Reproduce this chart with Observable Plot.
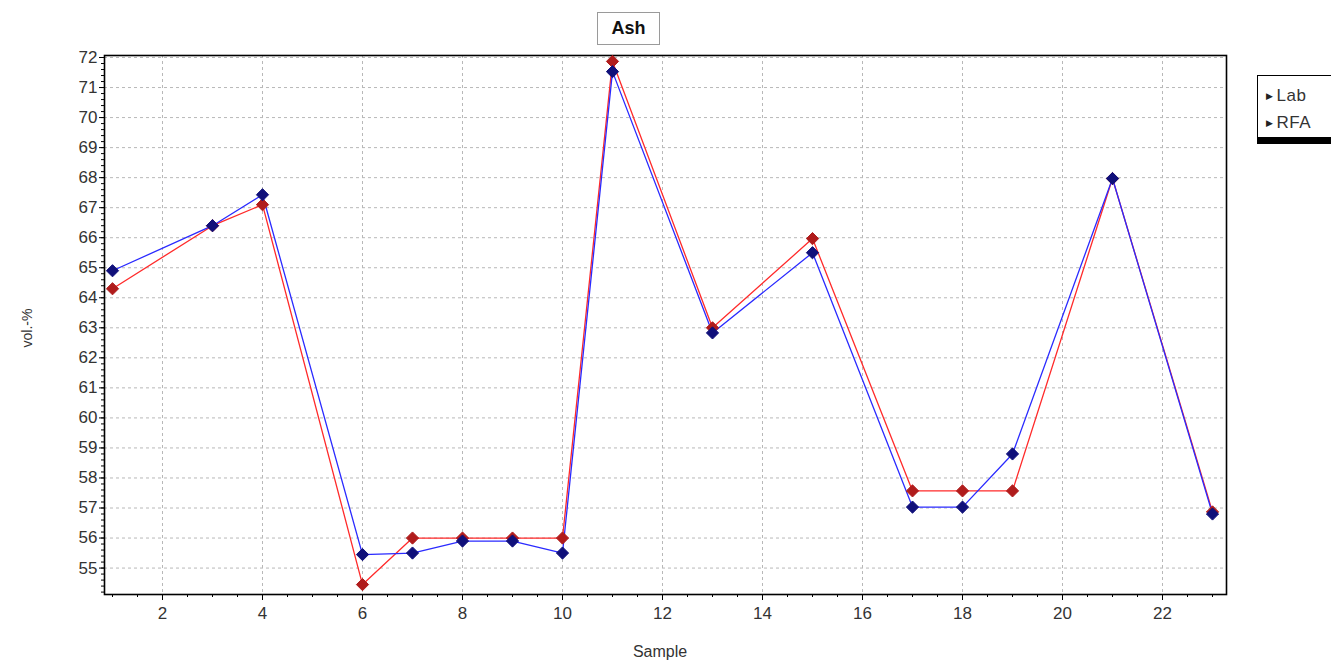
<!DOCTYPE html>
<html><head><meta charset="utf-8">
<script src="https://cdn.jsdelivr.net/npm/d3@7"></script>
<script src="https://cdn.jsdelivr.net/npm/@observablehq/plot@0.6"></script>
<style>
body{margin:0;background:#fff;}
#wrap{position:relative;width:1331px;height:665px;overflow:hidden;font-family:"Liberation Sans",Arial,sans-serif;}
#title{position:absolute;left:597px;top:12px;width:63px;height:33px;border:1px solid #9a9a9a;box-sizing:border-box;text-align:center;font-weight:bold;font-size:18px;line-height:31px;color:#111;background:#fff}
#legend{position:absolute;left:1257px;top:75px;width:100px;height:63px;border:1px solid #000;box-sizing:border-box;box-shadow:0 6px 0 #000;background:#fff;font-size:17px;color:#333}
#legend div{position:absolute;left:8px;white-space:nowrap;letter-spacing:0.5px}
#legend span{font-size:9px;color:#222;margin-right:3px;vertical-align:2px}
#ylab{position:absolute;left:27px;top:328px;transform:translate(-50%,-50%) rotate(-90deg);font-size:14px;color:#333;white-space:nowrap}
#xlab{position:absolute;left:660px;top:652px;transform:translate(-50%,-50%);font-size:16px;color:#333}
svg{position:absolute;left:0;top:0}
</style></head>
<body><div id="wrap">
<div id="chart"></div>
<div id="title">Ash</div>
<div id="legend"><div style="top:10px"><span>&#9654;</span>Lab</div><div style="top:37px"><span>&#9654;</span>RFA</div></div>
<div id="ylab">vol.-%</div>
<div id="xlab">Sample</div>
</div>
<script>
const samples = [1,3,4,6,7,8,9,10,11,13,15,17,18,19,21,23];
const lab = [64.3,66.4,67.1,54.45,56.0,56.0,56.0,56.0,71.87,63.0,65.97,57.57,57.57,57.57,67.97,56.87];
const rfa = [64.9,66.4,67.43,55.45,55.5,55.9,55.9,55.5,71.53,62.83,65.5,57.03,57.03,58.8,67.97,56.8];
const yTicks = d3.range(55, 73);
const xTicks = d3.range(2, 23, 2);

const gridStyle = {stroke:"#b8b8b8", strokeOpacity:1, strokeDasharray:"3,3", strokeWidth:1};
const chart = Plot.plot({
  width:1331, height:665,
  marginLeft:104, marginRight:105, marginTop:55, marginBottom:71,
  x:{domain:[0.84, 23.28]},
  y:{domain:[54.12, 72.067]},
  style:{fontFamily:'"Liberation Sans",Arial,sans-serif', fontSize:"17px", color:"#333", background:"transparent"},
  marks:[
    Plot.gridY(yTicks, gridStyle),
    Plot.gridX(xTicks, gridStyle),
    Plot.axisY(d3.range(54.2, 72.07, 0.2), {tickSize:3, text:null, label:null, stroke:"#000"}),
    Plot.axisY(yTicks, {tickSize:5, tickPadding:2, label:null, stroke:"#000", letterSpacing:"1px"}),
    Plot.axisX(d3.range(1, 23.3, 0.5), {tickSize:3, text:null, label:null, stroke:"#000"}),
    Plot.axisX(xTicks, {tickSize:6, tickPadding:6, label:null, stroke:"#000", letterSpacing:"1px"}),
    Plot.frame({stroke:"#000", strokeWidth:1.6}),
    Plot.line(samples, {x:samples, y:lab, stroke:"#ff2a2a", strokeWidth:1.3}),
    Plot.line(samples, {x:samples, y:rfa, stroke:"#2a2aff", strokeWidth:1.3}),
    Plot.dot(samples, {x:samples, y:lab, symbol:"diamond2", r:5.5, fill:"#b01c1c", stroke:"#b01c1c", strokeWidth:1}),
    Plot.dot(samples, {x:samples, y:rfa, symbol:"diamond2", r:5.5, fill:"#10107a", stroke:"#10107a", strokeWidth:1})
  ]
});
document.getElementById("chart").appendChild(chart);
</script>
</body></html>
